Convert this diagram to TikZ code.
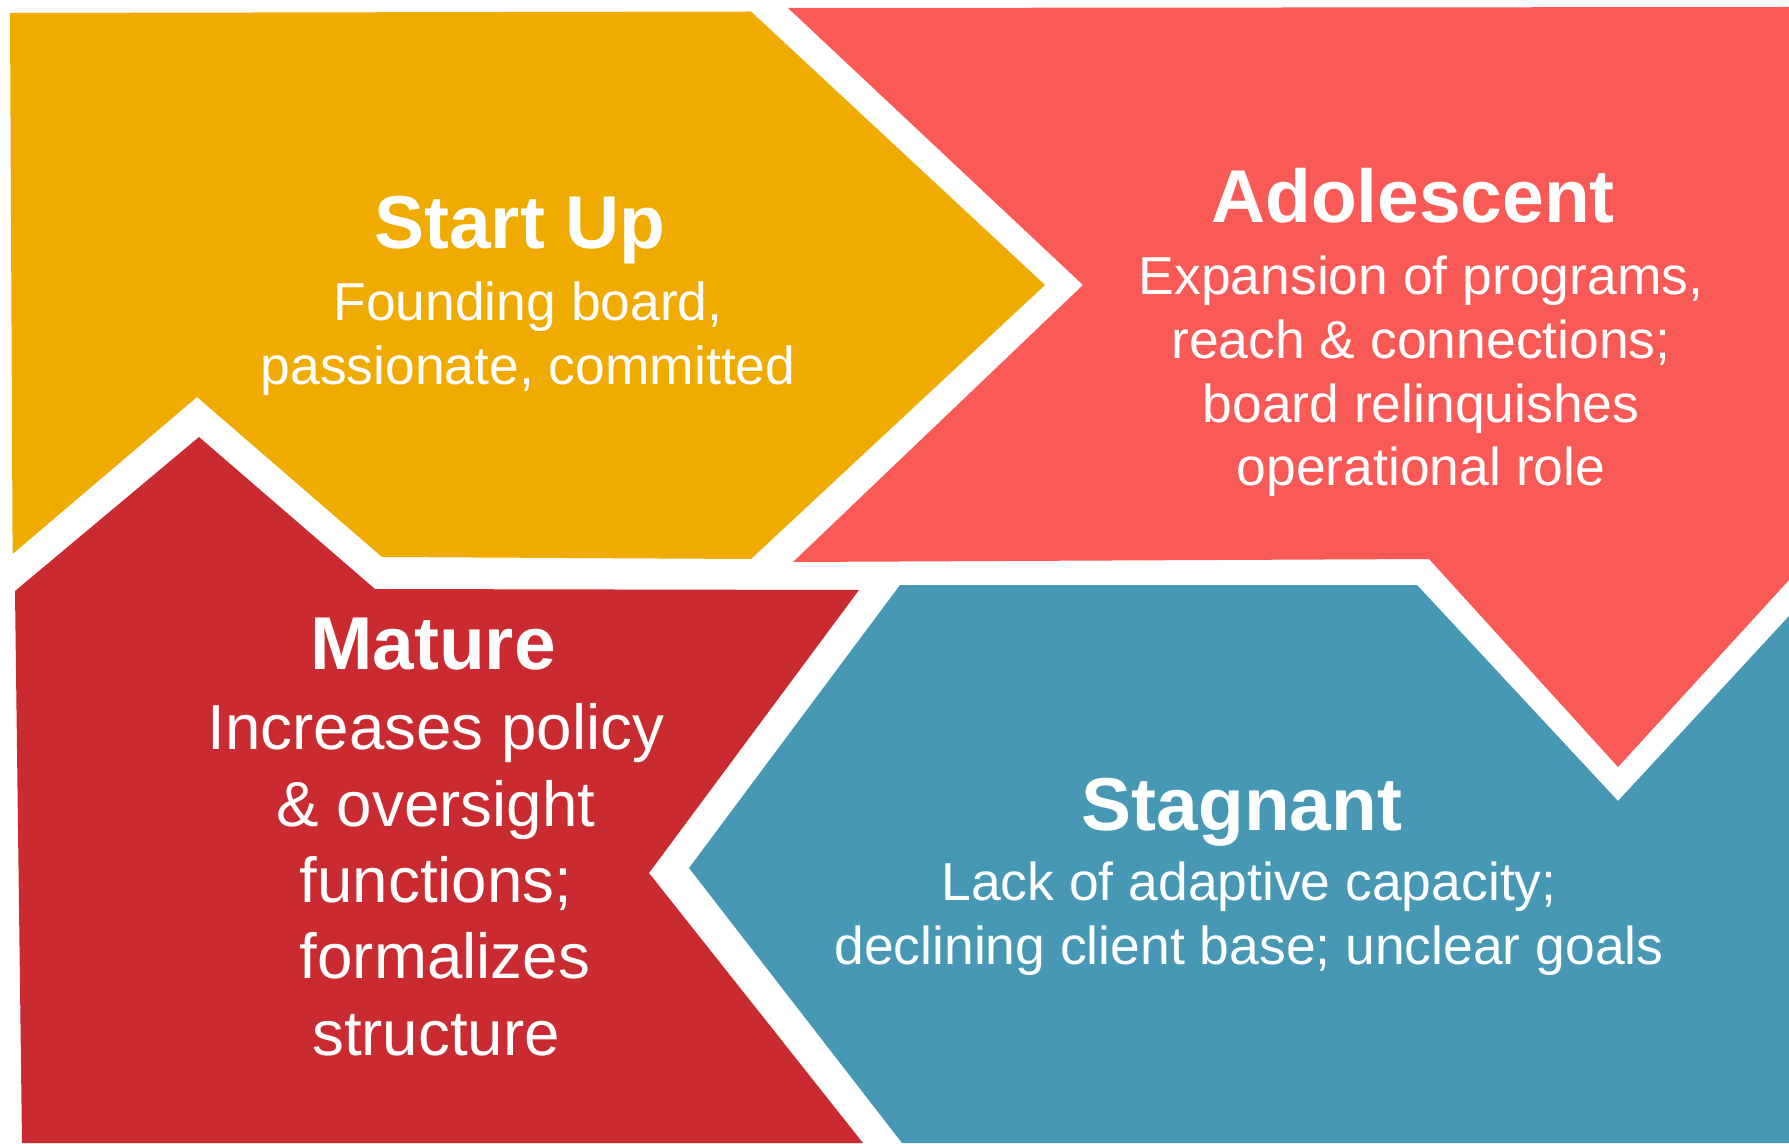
\documentclass[tikz,border=0pt]{standalone}
\usepackage{fontspec}
\setmainfont{Liberation Sans}
\definecolor{startup}{RGB}{240,171,0}
\definecolor{adolescent}{RGB}{249,90,85}
\definecolor{mature}{RGB}{201,43,48}
\definecolor{stagnant}{RGB}{70,152,181}
\begin{document}
\begin{tikzpicture}[x=0.01cm,y=-0.01cm,line join=miter,
	stage/.style={text=white,font=\bfseries\fontsize{21.3}{24}\selectfont,anchor=base,inner sep=0pt},
	note/.style={text=white,font=\fontsize{15.2}{18.1}\selectfont,align=center,anchor=north,inner sep=0pt},
	bignote/.style={note,font=\fontsize{18.1}{21.7}\selectfont}]
	\useasboundingbox (0,0) rectangle (1789,1143);
	% Start Up
	\coordinate (S1) at (10,13);
	\coordinate (S2) at (751,11.5);
	\coordinate (S3) at (1045,285);
	\coordinate (S4) at (751,559);
	\coordinate (S5) at (382,557);
	\coordinate (S6) at (197,397);
	\coordinate (S7) at (12.6,554);
	\fill[startup] (S1)--(S2)--(S3)--(S4)--(S5)--(S6)--(S7)--cycle;
	% Adolescent
	\coordinate (A1) at (788,8);
	\coordinate (A2) at (1789,7);
	\coordinate (A3) at (1789,580);
	\coordinate (A4) at (1618,767);
	\coordinate (A5) at (1429,559);
	\coordinate (A6) at (793,562);
	\coordinate (A7) at (1083,285);
	\fill[adolescent] (A1)--(A2)--(A3)--(A4)--(A5)--(A6)--(A7)--cycle;
	% Stagnant
	\coordinate (G1) at (900,585);
	\coordinate (G2) at (1417,585);
	\coordinate (G3) at (1618,801);
	\coordinate (G4) at (1789,616);
	\coordinate (G5) at (1789,1143);
	\coordinate (G6) at (902,1143);
	\coordinate (G7) at (689,868);
	\fill[stagnant] (G1)--(G2)--(G3)--(G4)--(G5)--(G6)--(G7)--cycle;
	% Mature
	\coordinate (M1) at (15,591);
	\coordinate (M2) at (199,437);
	\coordinate (M3) at (375,589);
	\coordinate (M4) at (859,590);
	\coordinate (M5) at (649,873);
	\coordinate (M6) at (863,1143);
	\coordinate (M7) at (22,1143);
	\fill[mature] (M1)--(M2)--(M3)--(M4)--(M5)--(M6)--(M7)--cycle;
	% texts
	\node[stage] (startT) at (520,249) {Start Up};
	\node[note] (startN) at (528,281) {Founding board,\\passionate, committed};
	\node[stage] (adolT) at (1413,223) {Adolescent};
	\node[note] (adolN) at (1421,255.5) {Expansion of programs,\\reach \& connections;\\board relinquishes\\operational role};
	\node[stage] (matT) at (433,669) {Mature};
	\node[bignote] (matN) at (436,703) {Increases policy\\\& oversight\\functions;\\\hspace*{0.28em}formalizes\\structure};
	\node[stage] (stagT) at (1242,830) {Stagnant};
	\node[note] (stagN) at (1249,861.5) {Lack of adaptive capacity;\\declining client base; unclear goals};
\end{tikzpicture}
\end{document}
